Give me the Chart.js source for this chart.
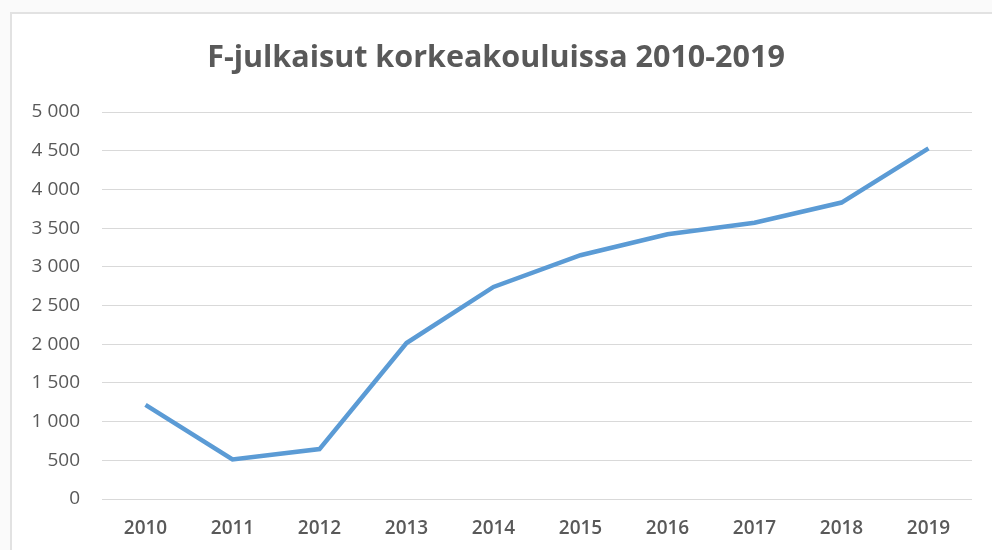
<!DOCTYPE html>
<html>
<head>
<meta charset="utf-8">
<script src="https://cdn.jsdelivr.net/npm/chart.js@4/dist/chart.umd.min.js"></script>
<style>
  html, body { margin: 0; padding: 0; background: #fafafa; }
  #frame { position: absolute; left: 10px; top: 12px; width: 1000px; height: 560px;
           background: #ffffff; border: 2px solid #e2e2e2; box-sizing: border-box; }
  #wrap { position: absolute; left: 0; top: 0; width: 992px; height: 550px; }
</style>
</head>
<body>
<div id="frame"></div>
<div id="wrap"><canvas id="c" width="992" height="550"></canvas></div>
<script>
const categories = ["2010","2011","2012","2013","2014","2015","2016","2017","2018","2019"];
const values = [1215, 510, 645, 2015, 2740, 3150, 3420, 3570, 3830, 4530];
const titleText = "F-julkaisut korkeakouluissa 2010-2019";
const yTicks = [0, 500, 1000, 1500, 2000, 2500, 3000, 3500, 4000, 4500, 5000];

function fmt(v) {
  return String(v).replace(/\B(?=(\d{3})+(?!\d))/g, " ");
}

new Chart(document.getElementById("c"), {
  type: "line",
  data: {
    labels: categories,
    datasets: [{
      data: values,
      borderColor: "#5b9bd5",
      borderWidth: 4.5,
      pointRadius: 0,
      pointHoverRadius: 0,
      tension: 0,
      fill: false
    }]
  },
  options: {
    responsive: false,
    animation: false,
    layout: { padding: { left: 20, right: 20, top: 0, bottom: 0 } },
    plugins: {
      legend: { display: false },
      tooltip: { enabled: false },
      title: {
        display: true,
        text: titleText,
        color: "#595959",
        font: { family: "Open Sans", size: 30.5, weight: "bold", lineHeight: 1.2 },
        padding: { top: 40, bottom: 35.4 }
      }
    },
    scales: {
      x: {
        offset: true,
        grid: { display: false, drawTicks: false },
        border: { display: false },
        ticks: {
          color: "#595959",
          font: { family: "Open Sans", size: 19, weight: "600" },
          padding: 18,
          maxRotation: 0
        },
        afterFit(scale) { scale.height = 51; }
      },
      y: {
        min: 0,
        max: 5000,
        afterBuildTicks(scale) { scale.ticks = yTicks.map(v => ({ value: v })); },
        grid: { color: "#d9d9d9", lineWidth: 1, drawTicks: false },
        border: { display: false },
        ticks: {
          color: "#595959",
          font: { family: "Open Sans", size: 19, weight: "500" },
          padding: 22,
          callback: (v) => fmt(v)
        },
        afterFit(scale) { scale.width = 82; }
      }
    }
  }
});
</script>
</body>
</html>
